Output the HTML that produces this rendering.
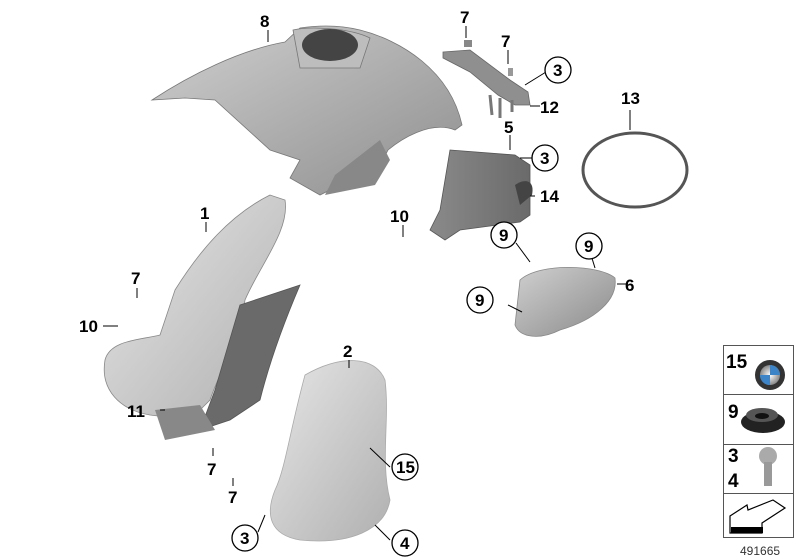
<!DOCTYPE html>
<html><head><meta charset="utf-8"><style>
html,body{margin:0;padding:0;background:#fff;}
svg{display:block;}
text{font-family:"Liberation Sans",sans-serif;font-weight:bold;font-size:17px;fill:#000;}
</style></head><body>
<svg width="800" height="560" viewBox="0 0 800 560" xmlns="http://www.w3.org/2000/svg">
<defs>
<linearGradient id="g1" x1="0" y1="0" x2="1" y2="1"><stop offset="0" stop-color="#cfcfcf"/><stop offset="1" stop-color="#8e8e8e"/></linearGradient>
<linearGradient id="g2" x1="0" y1="0" x2="1" y2="0"><stop offset="0" stop-color="#8a8a8a"/><stop offset="1" stop-color="#6a6a6a"/></linearGradient>
<linearGradient id="g3" x1="0" y1="0" x2="1" y2="1"><stop offset="0" stop-color="#e6e6e6"/><stop offset="1" stop-color="#b0b0b0"/></linearGradient>
<linearGradient id="g6" x1="0" y1="0" x2="1" y2="1"><stop offset="0" stop-color="#d0d0d0"/><stop offset="1" stop-color="#8a8a8a"/></linearGradient>
<radialGradient id="bmw"><stop offset="0" stop-color="#fff"/><stop offset="1" stop-color="#888"/></radialGradient>
</defs>
<path d="M152,100 C190,75 240,50 285,42 L300,28 C320,25 340,25 360,30 C400,40 450,70 462,125 L455,130 C430,120 400,140 388,150 L380,165 L320,195 L290,178 L300,160 L270,150 L215,100 L185,98 Z" fill="url(#g1)" stroke="#777" stroke-width="0.8"/>
<path d="M293,30 C310,26 350,28 370,38 L360,68 L300,68 Z" fill="#bdbdbd" stroke="#777" stroke-width="0.8"/>
<ellipse cx="330" cy="45" rx="28" ry="16" fill="#444"/>
<path d="M380,140 L390,160 L375,185 L325,195 L335,175 Z" fill="#888"/>
<path d="M443,52 L470,50 L510,80 L528,92 L530,105 L515,105 L498,95 L470,72 L443,58 Z" fill="#8f8f8f" stroke="#666" stroke-width="0.8"/>
<rect x="464" y="40" width="8" height="7" fill="#888"/><rect x="508" y="68" width="5" height="8" fill="#999"/>
<path d="M490,95 L492,115 M500,98 L500,118 M512,100 L512,112" stroke="#777" stroke-width="3"/>
<ellipse cx="635" cy="170" rx="52" ry="37" fill="none" stroke="#555" stroke-width="3"/>
<path d="M450,150 L515,155 L530,165 L530,215 L520,222 L460,230 L445,240 L430,230 L440,210 Z" fill="url(#g2)" stroke="#555" stroke-width="0.8"/>
<path d="M515,185 C525,178 535,180 532,195 L520,205 Z" fill="#444"/>
<path d="M520,280 C540,262 600,265 615,278 C618,300 595,320 560,330 C540,340 520,338 515,325 Z" fill="url(#g6)" stroke="#888" stroke-width="0.8"/>
<path d="M175,290 C200,250 230,215 270,195 L285,200 C290,230 260,265 245,300 C240,340 220,370 210,400 L190,420 L150,415 C120,410 100,390 105,360 C110,340 140,340 160,335 Z" fill="url(#g3)" stroke="#888" stroke-width="0.8"/>
<path d="M240,305 L300,285 C285,320 270,360 260,400 L230,420 L200,430 L215,390 Z" fill="#6a6a6a" stroke="#555" stroke-width="0.8"/>
<path d="M155,410 L200,405 L215,430 L165,440 Z" fill="#888"/>
<path d="M305,375 C340,355 375,355 385,380 C390,420 380,460 390,500 C385,530 350,545 300,540 C270,535 265,515 275,490 C285,470 290,430 305,375 Z" fill="url(#g3)" stroke="#aaa" stroke-width="0.8"/>
<g stroke="#000" stroke-width="1" fill="none">
<line x1="268" y1="30" x2="268" y2="42"/>
<line x1="466" y1="26" x2="466" y2="38"/>
<line x1="508" y1="50" x2="508" y2="64"/>
<line x1="546" y1="72" x2="525" y2="85"/>
<line x1="530" y1="106" x2="540" y2="106"/>
<line x1="510" y1="135" x2="510" y2="150"/>
<line x1="532" y1="158" x2="520" y2="158"/>
<line x1="535" y1="196" x2="530" y2="196"/>
<line x1="403" y1="225" x2="403" y2="237"/>
<line x1="516" y1="243" x2="530" y2="262"/>
<line x1="591" y1="255" x2="595" y2="268"/>
<line x1="617" y1="284" x2="627" y2="284"/>
<line x1="508" y1="305" x2="522" y2="312"/>
<line x1="206" y1="222" x2="206" y2="232"/>
<line x1="137" y1="288" x2="137" y2="298"/>
<line x1="103" y1="326" x2="118" y2="326"/>
<line x1="349" y1="360" x2="349" y2="368"/>
<line x1="160" y1="410" x2="165" y2="410"/>
<line x1="213" y1="448" x2="213" y2="456"/>
<line x1="233" y1="478" x2="233" y2="486"/>
<line x1="390" y1="467" x2="370" y2="448"/>
<line x1="258" y1="532" x2="265" y2="515"/>
<line x1="390" y1="540" x2="375" y2="525"/>
<line x1="630" y1="110" x2="630" y2="130"/>
</g>
<text x="260" y="27">8</text>
<text x="460" y="23">7</text>
<text x="501" y="47">7</text>
<text x="540" y="113">12</text>
<text x="504" y="133">5</text>
<text x="540" y="202">14</text>
<text x="390" y="222">10</text>
<text x="625" y="291">6</text>
<text x="621" y="104">13</text>
<text x="200" y="219">1</text>
<text x="131" y="284">7</text>
<text x="79" y="332">10</text>
<text x="343" y="357">2</text>
<text x="127" y="417">11</text>
<text x="207" y="475">7</text>
<text x="228" y="503">7</text>
<g fill="#fff" stroke="#000" stroke-width="1.3">
<circle cx="558" cy="70" r="13"/><circle cx="545" cy="158" r="13"/>
<circle cx="504" cy="235" r="13"/><circle cx="589" cy="246" r="13"/>
<circle cx="480" cy="300" r="13"/>
<circle cx="405" cy="467" r="13"/><circle cx="245" cy="538" r="13"/>
<circle cx="405" cy="543" r="13"/>
</g>
<text x="553" y="76">3</text><text x="540" y="164">3</text>
<text x="499" y="241">9</text><text x="584" y="252">9</text>
<text x="475" y="306">9</text>
<text x="396" y="473">15</text><text x="240" y="544">3</text><text x="400" y="549">4</text>
<g stroke="#555" stroke-width="1" fill="none">
<rect x="723.5" y="345.5" width="70" height="192"/>
<line x1="723" y1="394.5" x2="794" y2="394.5"/>
<line x1="723" y1="444.5" x2="794" y2="444.5"/>
<line x1="723" y1="493.5" x2="794" y2="493.5"/>
</g>
<text x="726" y="368" style="font-size:19px">15</text>
<circle cx="770" cy="375" r="15" fill="#333"/><circle cx="770" cy="375" r="10" fill="url(#bmw)"/>
<path d="M770,365 A10,10 0 0 1 780,375 L770,375 Z M770,385 A10,10 0 0 1 760,375 L770,375 Z" fill="#3c84c8"/>
<text x="728" y="418" style="font-size:19px">9</text>
<ellipse cx="763" cy="422" rx="22" ry="11" fill="#222"/><ellipse cx="762" cy="415" rx="16" ry="7" fill="#555"/><ellipse cx="762" cy="416" rx="7" ry="3" fill="#111"/>
<text x="728" y="462" style="font-size:19px">3</text>
<text x="728" y="487" style="font-size:19px">4</text>
<circle cx="768" cy="456" r="9" fill="#aaa"/><rect x="764" y="462" width="8" height="24" fill="#999"/>
<path d="M730,516 L747,505 L748,510 L773,500 L785,508 L762,523 L762,533 L730,533 Z" fill="#fff" stroke="#000" stroke-width="1.2"/>
<rect x="731" y="527" width="32" height="6" fill="#000"/>
<text x="740" y="555" style="font-size:12px;font-weight:normal;fill:#333">491665</text>
</svg>
</body></html>
